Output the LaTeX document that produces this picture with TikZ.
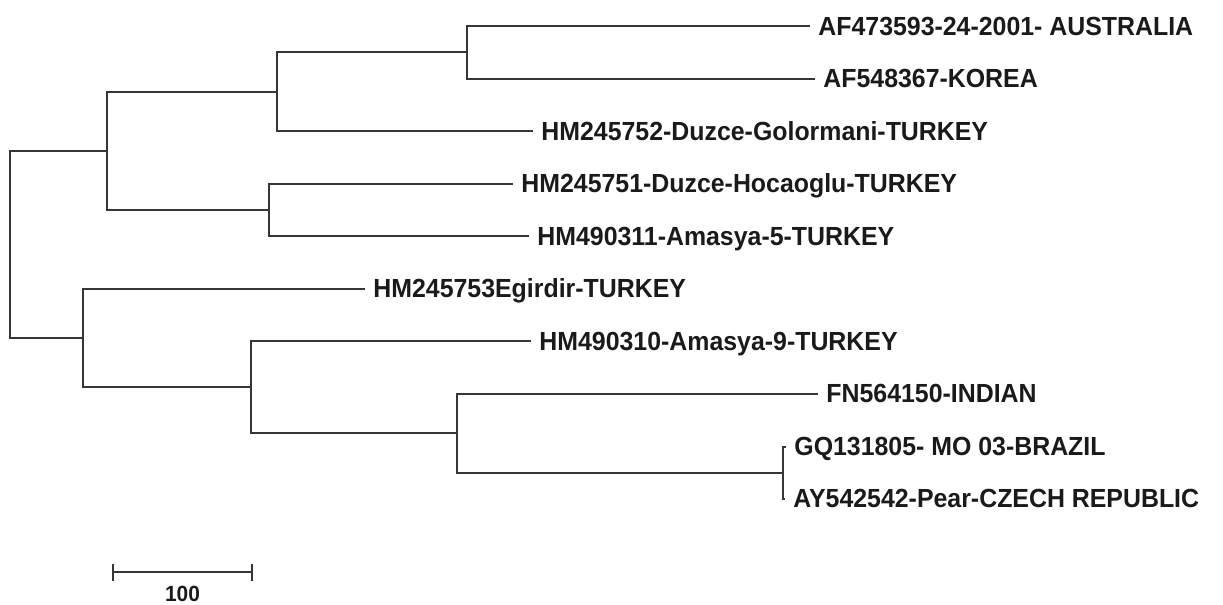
\documentclass[tikz,border=0pt]{standalone}
\usepackage{fontspec}
\setmainfont{Liberation Sans}[FakeStretch=0.95]
\usepackage{xcolor}
\usepackage{tikz}
\usetikzlibrary{positioning, arrows.meta}

\definecolor{branch}{HTML}{363636}
\definecolor{labeltext}{HTML}{1A1A1A}

\begin{document}
\begin{tikzpicture}[
        x=0.5pt, y=-0.5pt,
        font=\fontsize{13.1pt}{15pt}\selectfont\bfseries,
        leaf/.style={anchor=west, text=labeltext, inner xsep=4pt, inner ysep=0pt, text height=9.4pt, text depth=0pt},
        branchline/.style={draw=branch, line width=1pt},
        scalebar/.style={branchline, {Bar[width=8.5pt]}-{Bar[width=8.5pt]}}
    ]
    \useasboundingbox (0,0) rectangle (1223,605);

    % Internal nodes
    \coordinate (root) at (10,244.2);
    \coordinate (upper) at (107,150.7);
    \coordinate (lower) at (83,337.8);
    \coordinate (ausgrp) at (277,91.6);
    \coordinate (auskor) at (467,52.3);
    \coordinate (duzgrp) at (269,209.8);
    \coordinate (am9grp) at (251,387);
    \coordinate (indgrp) at (457,433);
    \coordinate (brazcz) at (783,472.5);

    % Leaves
    \node[leaf] (aus) at (810,26) {AF473593-24-2001- AUSTRALIA};
    \node[leaf] (kor) at (815,78.5) {AF548367-KOREA};
    \node[leaf] (gol) at (533,131) {HM245752-Duzce-Golormani-TURKEY};
    \node[leaf] (hoc) at (513,183.5) {HM245751-Duzce-Hocaoglu-TURKEY};
    \node[leaf] (am5) at (529,236) {HM490311-Amasya-5-TURKEY};
    \node[leaf] (egi) at (365,288.5) {HM245753Egirdir-TURKEY};
    \node[leaf] (am9) at (531,341) {HM490310-Amasya-9-TURKEY};
    \node[leaf] (ind) at (818,393.5) {FN564150-INDIAN};
    \node[leaf] (bra) at (786,446.5) {GQ131805- MO 03-BRAZIL};
    \node[leaf] (cze) at (785,498.5) {AY542542-Pear-CZECH REPUBLIC};

    % Branches
    \draw[branchline] (root) |- (upper);
    \draw[branchline] (root) |- (lower);

    \draw[branchline] (upper) |- (ausgrp);
    \draw[branchline] (upper) |- (duzgrp);
    \draw[branchline] (ausgrp) |- (auskor);
    \draw[branchline] (ausgrp) |- (gol.west);
    \draw[branchline] (auskor) |- (aus.west);
    \draw[branchline] (auskor) |- (kor.west);
    \draw[branchline] (duzgrp) |- (hoc.west);
    \draw[branchline] (duzgrp) |- (am5.west);

    \draw[branchline] (lower) |- (egi.west);
    \draw[branchline] (lower) |- (am9grp);
    \draw[branchline] (am9grp) |- (am9.west);
    \draw[branchline] (am9grp) |- (indgrp);
    \draw[branchline] (indgrp) |- (ind.west);
    \draw[branchline] (indgrp) |- (brazcz);
    \draw[branchline] (brazcz) |- (bra.west);
    \draw[branchline] (brazcz) |- (cze.west);

    % Scale bar
    \coordinate (sbleft) at (112,572);
    \coordinate (sbright) at (253,572);
    \coordinate (sbmid) at (182.5,572);
    \draw[scalebar] (sbleft) -- (sbright);
    \node[below=6.5pt of sbmid, inner sep=0pt, text height=7.9pt, text depth=0pt, text=labeltext,
          font=\fontsize{11pt}{13pt}\selectfont\bfseries] (sblabel) {100};

\end{tikzpicture}
\end{document}
